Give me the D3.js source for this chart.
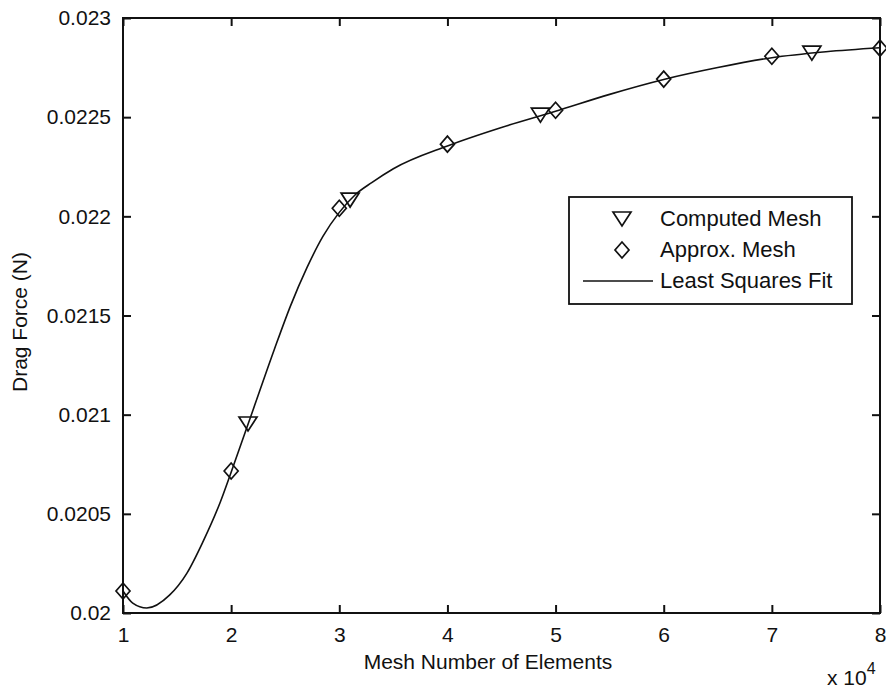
<!DOCTYPE html>
<html><head><meta charset="utf-8">
<script src="https://cdn.jsdelivr.net/npm/d3@7"></script>
<style>body{margin:0;background:#fff}svg{display:block}text{font-family:"Liberation Sans",Arial,sans-serif;fill:#111}</style>
</head><body>
<script>
const computedX = [21560, 31000, 48600, 73700];
const computedY = [0.020958, 0.022087, 0.022515, 0.022828];
const approxX = [10000, 20000, 30000, 40000, 50000, 60000, 70000, 80000];
const approxY = [0.020111, 0.020716, 0.022041, 0.022364, 0.022535, 0.022692, 0.022807, 0.022848];
const fitX = [10000, 10900, 12200, 14300, 15900, 17400, 19000, 20000, 22000, 24000, 25500, 27000, 28500, 30000, 31500, 33000, 35000, 40000, 45000, 50000, 55000, 60000, 65000, 70000, 75000, 80000];
const fitY = [0.020111, 0.02005, 0.020025, 0.02009, 0.0202, 0.02036, 0.02056, 0.02071, 0.02102, 0.02133, 0.02155, 0.02174, 0.0219, 0.02202, 0.02211, 0.02217, 0.02224, 0.022355, 0.022448, 0.02253, 0.022615, 0.02269, 0.02275, 0.0228, 0.02283, 0.02285];
const xTicks = [1, 2, 3, 4, 5, 6, 7, 8];
const yTicks = [0.02, 0.0205, 0.021, 0.0215, 0.022, 0.0225, 0.023];
const yTickLabels = ["0.02", "0.0205", "0.021", "0.0215", "0.022", "0.0225", "0.023"];
const legendLabels = ["Computed Mesh", "Approx. Mesh", "Least Squares Fit"];

const W = 886, H = 688;
const L = 123, R = 880, T = 18, B = 613;
const svg = d3.select("body").append("svg").attr("width", W).attr("height", H);
const x = d3.scaleLinear().domain([10000, 80000]).range([L, R]);
const y = d3.scaleLinear().domain([0.02, 0.023]).range([B, T]);
const FS = 21;

// fit curve
svg.append("path")
  .datum(fitX.map((v, i) => [v, fitY[i]]))
  .attr("d", d3.line().x(d => x(d[0])).y(d => y(d[1])).curve(d3.curveMonotoneX))
  .attr("fill", "none").attr("stroke", "#111").attr("stroke-width", 1.6);

function tri(g, cx, cy) {
  g.append("path").attr("d", `M${cx-9},${cy-6}L${cx+9},${cy-6}L${cx},${cy+8}Z`)
    .attr("fill", "none").attr("stroke", "#111").attr("stroke-width", 1.7);
}
function dia(g, cx, cy) {
  g.append("path").attr("d", `M${cx},${cy-8}L${cx+7},${cy}L${cx},${cy+8}L${cx-7},${cy}Z`)
    .attr("fill", "none").attr("stroke", "#111").attr("stroke-width", 1.7);
}
const mk = svg.append("g");
computedX.forEach((v, i) => tri(mk, x(v), y(computedY[i])));
approxX.forEach((v, i) => dia(mk, x(v), y(approxY[i])));

// axes box
svg.append("rect").attr("x", L).attr("y", T).attr("width", R - L).attr("height", B - T)
  .attr("fill", "none").attr("stroke", "#111").attr("stroke-width", 2);

const xa = d3.axisBottom(x).tickValues(xTicks.map(d => d * 1e4)).tickSize(-8).tickFormat(d => d / 1e4).tickPadding(14);
const xg = svg.append("g").attr("transform", `translate(0,${B})`).call(xa);
const xt = svg.append("g").attr("transform", `translate(0,${T})`).call(d3.axisTop(x).tickValues(xTicks.map(d => d * 1e4)).tickSize(-8).tickFormat(""));
const ya = d3.axisLeft(y).tickValues(yTicks).tickSize(-8).tickFormat((d, i) => yTickLabels[i]).tickPadding(12);
const yg = svg.append("g").attr("transform", `translate(${L},0)`).call(ya);
const yr = svg.append("g").attr("transform", `translate(${R},0)`).call(d3.axisRight(y).tickValues(yTicks).tickSize(-8).tickFormat(""));
[xg, xt, yg, yr].forEach(g => {
  g.select(".domain").remove();
  g.selectAll("line").attr("stroke", "#111").attr("stroke-width", 2);
  g.selectAll("text").attr("font-size", FS).attr("font-family", "Liberation Sans, Arial, sans-serif").attr("fill", "#111");
});

// axis labels
svg.append("text").attr("x", 488).attr("y", 669).attr("text-anchor", "middle").attr("font-size", 21).text("Mesh Number of Elements");
svg.append("text").attr("transform", "translate(27,322) rotate(-90)").attr("text-anchor", "middle").attr("font-size", 21).text("Drag Force (N)");
const ex = svg.append("text").attr("x", 827).attr("y", 685).attr("font-size", 21);
ex.append("tspan").text("x 10");
ex.append("tspan").attr("dy", -11).attr("font-size", 16).text("4");

// legend
const lg = svg.append("g");
lg.append("rect").attr("x", 569).attr("y", 197).attr("width", 283).attr("height", 107)
  .attr("fill", "#fff").attr("stroke", "#111").attr("stroke-width", 1.8);
const rowsY = [219, 250, 281];
tri(lg, 622, rowsY[0] - 1);
dia(lg, 622, rowsY[1]);
lg.append("line").attr("x1", 583).attr("x2", 653).attr("y1", rowsY[2]).attr("y2", rowsY[2]).attr("stroke", "#111").attr("stroke-width", 1.6);
legendLabels.forEach((t, i) => lg.append("text").attr("x", 660).attr("y", rowsY[i] + 7).attr("font-size", 22).text(t));
</script>
</body></html>
